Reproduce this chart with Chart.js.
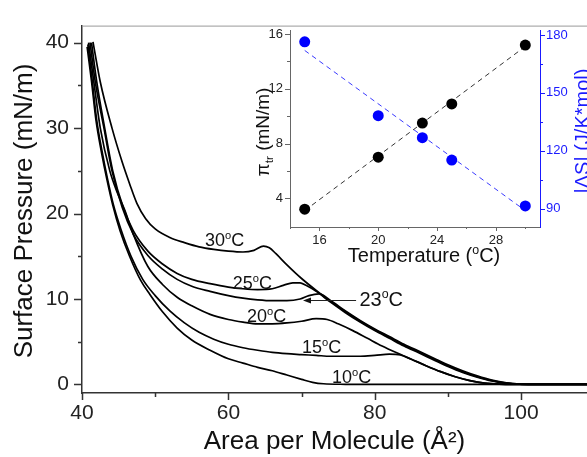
<!DOCTYPE html>
<html>
<head>
<meta charset="utf-8">
<script src="https://cdn.jsdelivr.net/npm/chart.js@4.4.0/dist/chart.umd.min.js"></script>
<style>
  html, body { margin: 0; padding: 0; background: #fff; overflow: hidden; }
  #wrap { position: relative; width: 587px; height: 457px; }
  #mainChart { position: absolute; left: 0; top: 0; }
  #insetChart { position: absolute; left: 230px; top: 0; }
</style>
</head>
<body>
<div id="wrap">
  <canvas id="mainChart" width="587" height="457"></canvas>
  <canvas id="insetChart" width="357" height="270"></canvas>
</div>
<script>
// isotherms, [area (A^2), surface pressure (mN/m)]
const iso10 = [[40.7,39.5],[41.3,35.5],[41.9,31],[42.7,27],[43.4,24],[44.2,21],[45.2,18],[46.5,15],[48,12.2],[49.3,10.5],[51,8.5],[53,6.6],[55,5.2],[57.5,4.0],[60,3.0],[62,2.5],[64,2.0],[66,1.6],[68,1.1],[70,0.6],[71.5,0.25],[73,0.08],[76,0.02],[80,0],[109,0]];
const iso15 = [[40.8,39.8],[41.4,35.5],[42,31],[42.8,27],[43.5,24],[44.3,21],[45.3,18.2],[46.7,15],[48.3,12.3],[50,10.4],[52,8.6],[54,7.2],[56,6.1],[58,5.3],[60,4.7],[62,4.3],[64,4.0],[66,3.75],[68,3.6],[70,3.5],[72,3.4],[74,3.3],[76,3.3],[78,3.3],[80,3.4],[82,3.55],[83.5,3.45],[85,2.95],[87,2.2],[89,1.5],[91,0.9],[93,0.45],[95,0.15],[97,0.03],[99,0],[109,0]];
const iso20 = [[40.9,40],[41.6,35.5],[42.5,30],[43.8,25],[44.8,22.5],[45.8,20.5],[47,17.6],[49,13.8],[51,11.7],[53,10.2],[55,9.2],[57.5,8.2],[60,7.6],[62,7.3],[64,7.1],[66,7.1],[68,7.2],[70,7.4],[72,7.7],[73.5,7.6],[75,7.1],[77,6.3],[79,5.4],[81,4.5],[83,3.7],[85,2.95],[87,2.2],[89,1.5],[91,0.9],[93,0.45],[95,0.15],[97,0.03],[99,0],[109,0]];
const iso23 = [[41.1,40],[41.8,35.5],[43,30],[44.1,25],[45.5,20.7],[47,17.6],[49,15.1],[51,13.5],[53,12.3],[55,11.5],[57.5,10.9],[60,10.4],[62,10.1],[64,9.9],[66,9.8],[68,9.8],[69.8,10.0],[71,10.4],[72.4,10.6],[74,9.8],[76,8.6],[78,7.5],[80,6.5],[82,5.6],[84,4.7],[86,3.9],[88,3.1],[90,2.3],[92,1.6],[94,1.0],[96,0.5],[98,0.18],[100,0.04],[102,0],[109,0]];
const iso25 = [[41.3,40],[42,35.5],[43.1,30],[44.2,25],[45.6,20.8],[47,18],[49,15.6],[51,14.1],[53,13.0],[55,12.3],[57.5,11.8],[60,11.4],[62,11.2],[64,11.1],[66,11.2],[67.5,11.6],[68.8,11.9],[69.8,11.9],[70.6,11.6],[72,10.9],[74,9.6],[76,8.4],[78,7.3],[80,6.3],[82,5.4],[84,4.5],[86,3.7],[88,2.9],[90,2.1],[92,1.4],[94,0.85],[96,0.4],[98,0.12],[100,0.02],[102,0],[109,0]];
const iso30 = [[41.5,40.1],[42.5,35.4],[44.1,30],[45.5,26],[46.5,23.5],[47.5,21.2],[48.7,19.4],[50,18.2],[52,17.2],[54,16.6],[56,16.1],[58,15.8],[60,15.6],[62,15.5],[63.5,15.7],[64.8,16.2],[65.6,16.0],[66.5,15.3],[68,14.0],[70,12.4],[72,11.0],[74,9.7],[76,8.5],[78,7.4],[80,6.4],[82,5.5],[84,4.6],[86,3.8],[88,3.0],[90,2.2],[92,1.5],[94,0.9],[96,0.45],[98,0.15],[100,0.03],[102,0],[109,0]];
const isoCurves = [iso10, iso15, iso20, iso23, iso25, iso30];

const mainXTicks = [40, 60, 80, 100];
const mainXMinor = [50, 70, 90];
const mainYTicks = [0, 10, 20, 30, 40];
const mainYMinor = [5, 15, 25, 35];

// inset: transition pressure and |dS| vs temperature
const insetTemps = [15, 20, 23, 25, 30];
const piTr = [3.2, 7.0, 9.5, 10.9, 15.2];
const deltaS = [176.5, 138.2, 126.8, 115.2, 91.4];
const fitTemps = [15, 30];
const fitPi = [3.1, 15.1];
const fitDeltaS = [172, 89];

const insetXTicks = [16, 20, 24, 28];
const insetXMinor = [14, 18, 22, 26, 30];
const insetYTicks = [4, 8, 12, 16];
const insetYMinor = [6, 10, 14];
const insetY2Ticks = [90, 120, 150, 180];
const insetY2Minor = [105, 135, 165];

const FONT = "'Liberation Sans', Arial, Helvetica, sans-serif";
const BLUE = '#1a1aff';

// text with small raised/lowered pieces (degree "o", subscript "tr")
function drawRich(ctx, parts, x, y, size, align) {
    let total = 0;
    const widths = parts.map(p => {
        const s = (p.sup || p.sub) ? size * 0.62 : size;
        ctx.font = s + 'px ' + FONT;
        const w = ctx.measureText(p.t).width;
        total += w;
        return w;
    });
    let cx = align === 'center' ? x - total / 2 : x;
    ctx.textBaseline = 'alphabetic';
    ctx.textAlign = 'left';
    parts.forEach((p, i) => {
        const s = (p.sup || p.sub) ? size * 0.62 : size;
        ctx.font = s + 'px ' + FONT;
        const dy = p.sup ? -size * 0.40 : (p.sub ? size * 0.22 : 0);
        ctx.fillText(p.t, cx, y + dy);
        cx += widths[i];
    });
}

function degLabel(t) {
    return [{ t: t }, { t: 'o', sup: true }, { t: 'C' }];
}

function tickPlugin(sets) {
    return {
        id: 'tickMarks',
        afterDraw(chart) {
            const ctx = chart.ctx, area = chart.chartArea;
            sets.forEach(set => {
                const scale = chart.scales[set.axis];
                ctx.save();
                ctx.strokeStyle = set.color;
                ctx.lineWidth = set.width;
                ctx.beginPath();
                set.values.forEach(v => {
                    const p = Math.round(scale.getPixelForValue(v)) + 0.5;
                    if (set.axis === 'x') {
                        ctx.moveTo(p, area.bottom);
                        ctx.lineTo(p, area.bottom + set.len);
                    } else if (scale.position === 'left') {
                        ctx.moveTo(area.left, p);
                        ctx.lineTo(area.left - set.len, p);
                    } else {
                        ctx.moveTo(area.right, p);
                        ctx.lineTo(area.right + set.len, p);
                    }
                });
                ctx.stroke();
                ctx.restore();
            });
        }
    };
}

const mainDecor = {
    id: 'mainDecor',
    afterDraw(chart) {
        const ctx = chart.ctx, area = chart.chartArea;
        const xs = chart.scales.x, ys = chart.scales.y;
        ctx.save();
        // top frame line
        ctx.strokeStyle = '#999';
        ctx.lineWidth = 1;
        ctx.beginPath();
        ctx.moveTo(area.left, area.top + 0.5);
        ctx.lineTo(area.right, area.top + 0.5);
        ctx.stroke();

        ctx.fillStyle = '#111';
        const labels = [
            { t: '30', x: 56.8, y: 16.2, size: 18 },
            { t: '25', x: 60.6, y: 11.2, size: 18 },
            { t: '20', x: 62.55, y: 7.3, size: 18 },
            { t: '15', x: 70.07, y: 3.7, size: 18 },
            { t: '10', x: 74.17, y: 0.2, size: 18 },
            { t: '23', x: 77.9, y: 9.2, size: 20 }
        ];
        labels.forEach(l => {
            drawRich(ctx, degLabel(l.t), xs.getPixelForValue(l.x), ys.getPixelForValue(l.y), l.size, 'left');
        });

        // arrow to the 23 C curve
        const ax0 = xs.getPixelForValue(77.45), ax1 = xs.getPixelForValue(70.2);
        const ay = Math.round(ys.getPixelForValue(9.9)) + 0.5;
        ctx.strokeStyle = '#222';
        ctx.lineWidth = 1;
        ctx.beginPath();
        ctx.moveTo(ax0, ay);
        ctx.lineTo(ax1 + 6, ay);
        ctx.stroke();
        ctx.beginPath();
        ctx.moveTo(ax1, ay);
        ctx.lineTo(ax1 + 8, ay - 3);
        ctx.lineTo(ax1 + 8, ay + 3);
        ctx.closePath();
        ctx.fill();

        // axis titles
        ctx.fillStyle = '#111';
        ctx.font = '26px ' + FONT;
        ctx.textAlign = 'center';
        ctx.textBaseline = 'alphabetic';
        ctx.fillText('Area per Molecule (\u00C5\u00B2)', (area.left + area.right) / 2, 449);
        ctx.translate(32, 211);
        ctx.rotate(-Math.PI / 2);
        ctx.fillText('Surface Pressure (mN/m)', 0, 0);
        ctx.restore();
    }
};

new Chart(document.getElementById('mainChart'), {
    type: 'line',
    data: {
        datasets: isoCurves.map(c => ({
            data: c.map(p => ({ x: p[0], y: p[1] })),
            borderColor: '#000',
            borderWidth: 1.7,
            pointRadius: 0,
            cubicInterpolationMode: 'monotone',
            fill: false
        }))
    },
    options: {
        responsive: false,
        animation: false,
        events: [],
        layout: { padding: { top: 12, left: 0, right: 0, bottom: 0 } },
        plugins: { legend: { display: false }, tooltip: { enabled: false } },
        scales: {
            x: {
                type: 'linear', min: 40, max: 109,
                grid: { display: false, drawTicks: false },
                border: { color: '#333', width: 1.5 },
                afterBuildTicks: s => { s.ticks = mainXTicks.map(v => ({ value: v })); },
                afterFit: s => { s.height = 64; },
                ticks: { font: { size: 21, family: FONT }, color: '#222', padding: 8, maxRotation: 0, autoSkip: false }
            },
            y: {
                type: 'linear', min: -1, max: 42,
                grid: { display: false, drawTicks: false },
                border: { color: '#333', width: 1.5 },
                afterBuildTicks: s => { s.ticks = mainYTicks.map(v => ({ value: v })); },
                afterFit: s => { s.width = 82; },
                ticks: { font: { size: 21, family: FONT }, color: '#222', padding: 13, autoSkip: false }
            }
        }
    },
    plugins: [
        tickPlugin([
            { axis: 'x', values: mainXTicks, len: 7, color: '#333', width: 1.5 },
            { axis: 'x', values: mainXMinor, len: 4, color: '#333', width: 1.5 },
            { axis: 'y', values: mainYTicks, len: 8, color: '#333', width: 1.5 },
            { axis: 'y', values: mainYMinor, len: 4, color: '#333', width: 1.5 }
        ]),
        mainDecor
    ]
});

const insetDecor = {
    id: 'insetDecor',
    afterDraw(chart) {
        const ctx = chart.ctx;
        ctx.save();
        ctx.fillStyle = '#111';
        drawRich(ctx, [{ t: 'Temperature (' }, { t: 'o', sup: true }, { t: 'C)' }], 194, 262, 20, 'center');

        ctx.save();
        ctx.translate(39, 132);
        ctx.rotate(-Math.PI / 2);
        drawRich(ctx, [{ t: '\u03C0' }, { t: 'tr', sub: true }, { t: ' (mN/m)' }], 0, 0, 19, 'center');
        ctx.restore();

        ctx.fillStyle = BLUE;
        ctx.translate(359, 131);
        ctx.rotate(-Math.PI / 2);
        ctx.font = '20px ' + FONT;
        ctx.textAlign = 'center';
        ctx.textBaseline = 'alphabetic';
        ctx.fillText('|\u0394S| (J/K*mol)', 0, 0);
        ctx.restore();
    }
};

new Chart(document.getElementById('insetChart'), {
    type: 'scatter',
    data: {
        datasets: [
            {
                data: insetTemps.map((t, i) => ({ x: t, y: piTr[i] })),
                yAxisID: 'y', pointRadius: 5.5, backgroundColor: '#000', borderWidth: 0
            },
            {
                data: insetTemps.map((t, i) => ({ x: t, y: deltaS[i] })),
                yAxisID: 'y2', pointRadius: 5.5, backgroundColor: '#0000ff', borderWidth: 0
            },
            {
                data: fitTemps.map((t, i) => ({ x: t, y: fitPi[i] })),
                yAxisID: 'y', showLine: true, pointRadius: 0,
                borderColor: '#333', borderWidth: 1, borderDash: [5, 4]
            },
            {
                data: fitTemps.map((t, i) => ({ x: t, y: fitDeltaS[i] })),
                yAxisID: 'y2', showLine: true, pointRadius: 0,
                borderColor: '#3a3aff', borderWidth: 1, borderDash: [5, 4]
            }
        ]
    },
    options: {
        responsive: false,
        animation: false,
        events: [],
        layout: { padding: { top: 30, left: 0, right: 0, bottom: 0 } },
        plugins: { legend: { display: false }, tooltip: { enabled: false } },
        scales: {
            x: {
                type: 'linear', min: 14, max: 31,
                grid: { display: false, drawTicks: false },
                border: { color: '#666', width: 1 },
                afterBuildTicks: s => { s.ticks = insetXTicks.map(v => ({ value: v })); },
                afterFit: s => { s.height = 43; },
                ticks: { font: { size: 13, family: FONT }, color: '#222', padding: 6, maxRotation: 0, autoSkip: false }
            },
            y: {
                type: 'linear', position: 'left', min: 1.9, max: 16.3,
                grid: { display: false, drawTicks: false },
                border: { color: '#666', width: 1 },
                afterBuildTicks: s => { s.ticks = insetYTicks.map(v => ({ value: v })); },
                afterFit: s => { s.width = 60; },
                ticks: { font: { size: 13, family: FONT }, color: '#222', padding: 7, autoSkip: false }
            },
            y2: {
                type: 'linear', position: 'right', min: 80.5, max: 182.6,
                grid: { display: false, drawTicks: false },
                border: { color: BLUE, width: 1 },
                afterBuildTicks: s => { s.ticks = insetY2Ticks.map(v => ({ value: v })); },
                afterFit: s => { s.width = 47; },
                ticks: { font: { size: 13, family: FONT }, color: BLUE, padding: 6, autoSkip: false }
            }
        }
    },
    plugins: [
        tickPlugin([
            { axis: 'x', values: insetXTicks, len: 4, color: '#666', width: 1 },
            { axis: 'x', values: insetXMinor, len: 2, color: '#666', width: 1 },
            { axis: 'y', values: insetYTicks, len: 5, color: '#666', width: 1 },
            { axis: 'y', values: insetYMinor, len: 3, color: '#666', width: 1 },
            { axis: 'y2', values: insetY2Ticks, len: 5, color: BLUE, width: 1 },
            { axis: 'y2', values: insetY2Minor, len: 3, color: BLUE, width: 1 }
        ]),
        insetDecor
    ]
});
</script>
</body>
</html>
